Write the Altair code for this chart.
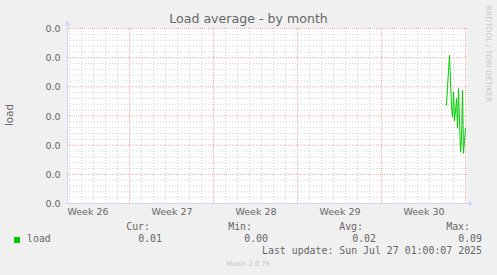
import altair as alt
import pandas as pd

# ---- data -------------------------------------------------------------
# 2-hour averaged load samples (UTC), the only period with data this month
load_times = [
    "2025-07-25T10:00:00Z", "2025-07-25T12:00:00Z", "2025-07-25T14:00:00Z",
    "2025-07-25T16:00:00Z", "2025-07-25T18:00:00Z", "2025-07-25T20:00:00Z",
    "2025-07-25T22:00:00Z", "2025-07-26T00:00:00Z", "2025-07-26T02:00:00Z",
    "2025-07-26T04:00:00Z", "2025-07-26T06:00:00Z", "2025-07-26T08:00:00Z",
    "2025-07-26T10:00:00Z", "2025-07-26T12:00:00Z", "2025-07-26T14:00:00Z",
    "2025-07-26T16:00:00Z", "2025-07-26T18:00:00Z", "2025-07-26T20:00:00Z",
    "2025-07-26T22:00:00Z", "2025-07-27T00:00:00Z",
]
load_values = [
    0.0168, 0.0199, 0.0228, 0.0254, 0.0211, 0.0166, 0.0148, 0.0191, 0.0142, 0.0159,
    0.0180, 0.0129, 0.0197, 0.0142, 0.0088, 0.0108, 0.0194, 0.0086, 0.0108, 0.0129,
]

# x-axis week labels, centred mid-week
week_labels = ["Week 26", "Week 27", "Week 28", "Week 29", "Week 30"]
week_label_times = ["2025-06-25T12", "2025-07-02T12", "2025-07-09T12",
                    "2025-07-16T12", "2025-07-23T12"]
# week boundaries (major vertical grid)
week_bounds = ["2025-06-29", "2025-07-06", "2025-07-13", "2025-07-20", "2025-07-27"]

# y ticks
y_ticks = [0.0, 0.005, 0.01, 0.015, 0.02, 0.025, 0.03]

# legend statistics
stat_names = ["Cur:", "Min:", "Avg:", "Max:"]
stat_values = [0.01, 0.00, 0.02, 0.09]
series_name = "load"
last_update = "Last update: Sun Jul 27 01:00:07 2025"

# ---- styling ----------------------------------------------------------
FONT = "DejaVu Sans"
MONO = "DejaVu Sans Mono"
TXT = "#666666"
AXIS_C = "#CFD6F8"
GREEN = "#00CC00"
W, H = 400, 175

x_scale = alt.Scale(
    type="utc",
    domain=[alt.DateTime(year=2025, month=6, date=23, hours=20, utc=True),
            alt.DateTime(year=2025, month=7, date=27, hours=4, utc=True)],
    range=[0.5, W + 0.5],
)
y_scale = alt.Scale(domain=[0, 0.03], nice=False, zero=True, range=[H + 0.5, 0.5])

label_expr = "{}[indexof({}, utcFormat(datum.value, '%Y-%m-%dT%H'))]".format(
    "[" + ",".join("'%s'" % s for s in week_labels) + "]",
    "[" + ",".join("'%s'" % s for s in week_label_times) + "]",
)
label_ms = [int(pd.Timestamp(s + ":00:00Z").value // 10**6) for s in week_label_times]

x_axis = alt.Axis(values=label_ms, labelExpr=label_expr, grid=False, ticks=False,
                  domain=False, labelFlush=False, labelOverlap=False,
                  labelPadding=3, labelFont=FONT, labelFontSize=9.5,
                  labelColor=TXT, title=None)
y_axis = alt.Axis(values=y_ticks, format=".1f", grid=False, ticks=False,
                  domain=False, labelPadding=7, labelFont=FONT,
                  labelFontSize=9.5, labelColor=TXT, labelOverlap=False,
                  title=None)


def xe(field):
    return alt.X(field, type="temporal", scale=x_scale, axis=x_axis)


def ye(field):
    return alt.Y(field, type="quantitative", scale=y_scale, axis=y_axis)


load_df = pd.DataFrame({"t": load_times, "v": load_values})

# grid tables
minor_days = [d.strftime("%Y-%m-%dT00:00:00Z")
              for d in pd.date_range("2025-06-24", "2025-07-27", freq="D")
              if d.dayofweek != 6]
minor_y = [i / 1000 for i in range(31) if i % 5]
vmin_df = pd.DataFrame({"t": minor_days})
vmaj_df = pd.DataFrame({"t": [b + "T00:00:00Z" for b in week_bounds]})
hmin_df = pd.DataFrame({"v": minor_y})
hmaj_df = pd.DataFrame({"v": y_ticks})

minor_style = dict(color="#8F8F8F", opacity=0.4, strokeWidth=1, strokeDash=[1, 2])
major_style = dict(color="#E45C5C", opacity=0.5, strokeWidth=1, strokeDash=[1, 1])

minor_v = alt.Chart(vmin_df).mark_rule(**minor_style).encode(x=xe("t"))
minor_h = alt.Chart(hmin_df).mark_rule(**minor_style).encode(y=ye("v"))
major_v = alt.Chart(vmaj_df).mark_rule(**major_style).encode(x=xe("t"))
major_h = alt.Chart(hmaj_df).mark_rule(**major_style).encode(y=ye("v"))

line = alt.Chart(load_df).mark_line(color=GREEN, strokeWidth=1).encode(
    x=xe("t"), y=ye("v"))

one = alt.Data(values=[{}])

# axis lines with arrow heads
y_axis_line = alt.Chart(one).mark_rule(color=AXIS_C, strokeWidth=1).encode(
    x=alt.value(0.5), y=alt.value(H + 0.5), y2=alt.value(-3))
x_axis_line = alt.Chart(one).mark_rule(color=AXIS_C, strokeWidth=1).encode(
    x=alt.value(0), x2=alt.value(W + 3), y=alt.value(H + 0.5))
y_arrow = alt.Chart(one).mark_point(shape="triangle-up", filled=True, color=AXIS_C,
                                    size=28, opacity=1).encode(
    x=alt.value(0.5), y=alt.value(-5))
x_arrow = alt.Chart(one).mark_point(shape="triangle-right", filled=True, color=AXIS_C,
                                    size=28, opacity=1).encode(
    x=alt.value(W + 4), y=alt.value(H + 0.5))


def label(text, x, y, size, font=FONT, color=TXT, align="left",
          baseline="middle", angle=0):
    return alt.Chart(one).mark_text(
        text=text, font=font, fontSize=size, color=color, align=align,
        baseline=baseline, angle=angle,
    ).encode(x=alt.value(x), y=alt.value(y))


texts = [
    label("Load average - by month", 181.5, -5.5, 12.6, align="center",
          baseline="alphabetic"),
    label("load", -57, 87, 10.3, align="center", angle=270),
    label("RRDTOOL / TOBI OETIKER", 421, 26, 7.5, color="#C8C8C8",
          align="center", angle=90),
    label("Munin 2.0.75", 181, 236, 6.7, color="#C0C0C0", align="center"),
    label(series_name, -40, 211, 9.9, font=MONO),
    label(last_update, 415, 223, 9.9, font=MONO, align="right"),
]

# stat columns: header right edge / value right edge (relative to plot)
stat_cols = [(83, 95), (185, 201), (296, 309), (403, 415)]
for name, val, (hx, vx) in zip(stat_names, stat_values, stat_cols):
    texts.append(label(name, hx, 199, 9.9, font=MONO, align="right"))
    texts.append(label(f"{val:.2f}", vx, 211, 9.9, font=MONO, align="right"))

legend_box = alt.Chart(one).mark_square(color=GREEN, size=36, opacity=1).encode(
    x=alt.value(-50), y=alt.value(212))

chart = alt.layer(
    minor_v, minor_h, major_v, major_h, line,
    y_axis_line, x_axis_line, y_arrow, x_arrow, legend_box, *texts,
).properties(
    width=W, height=H,
    background="#F0F0F0",
    padding={"left": 67, "top": 28, "right": 30, "bottom": 72},
    autosize=alt.AutoSizeParams(type="none"),
).configure_view(stroke=None, fill="#FFFFFF")

chart.save("out.html", embed_options={"renderer": "svg", "actions": False})
